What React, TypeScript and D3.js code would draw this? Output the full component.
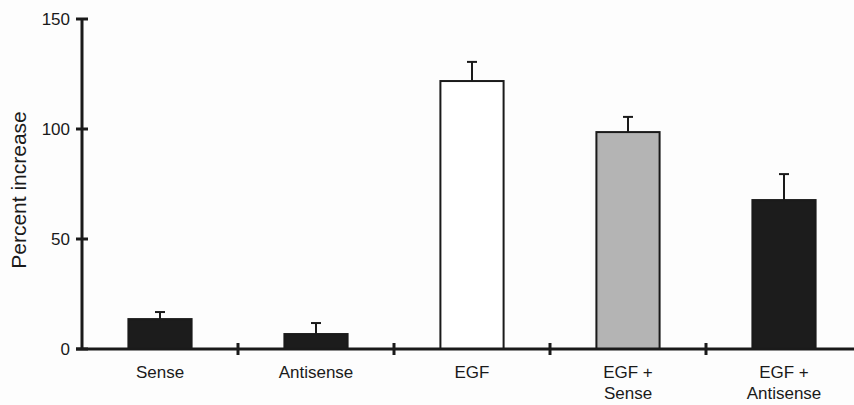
import React from "react";
import * as d3 from "d3";

const categories = ["Sense", "Antisense", "EGF", "EGF +\nSense", "EGF +\nAntisense"];
const values = [13.6, 6.8, 121.8, 98.6, 67.7];
const errors = [3.2, 5.0, 8.7, 6.9, 11.8];
const fills = ["#1c1c1c", "#1c1c1c", "#ffffff", "#b4b4b4", "#1c1c1c"];
const yTicks = [0, 50, 100, 150];

export default function App() {
  const W = 854, H = 405;
  const x0 = 82, x1 = 862, yTop = 19, yBot = 349;
  const x = d3.scaleBand<string>().domain(categories).range([x0, x1]).padding(0);
  const y = d3.scaleLinear().domain([0, 150]).range([yBot, yTop]);
  const bw = x.bandwidth() * 0.405;
  const font = "'Liberation Sans', Arial, sans-serif";
  const ink = "#1a1a1a";
  return (
    <svg width={W} height={H} style={{ position: "absolute", left: 0, top: 0, background: "#fdfdfd" }}>
      {categories.map((c, i) => {
        const cx = (x(c) as number) + x.bandwidth() / 2;
        const top = y(values[i]);
        const et = y(values[i] + errors[i]);
        return (
          <g key={c}>
            <line x1={cx} x2={cx} y1={top} y2={et} stroke={ink} strokeWidth={2} />
            <line x1={cx - 5} x2={cx + 5} y1={et} y2={et} stroke={ink} strokeWidth={2} />
            <rect x={cx - bw / 2} y={top} width={bw} height={yBot - top} fill={fills[i]} stroke={ink} strokeWidth={2} />
          </g>
        );
      })}
      <line x1={x0} x2={x0} y1={yTop} y2={yBot + 1} stroke={ink} strokeWidth={3} />
      <line x1={x0 - 6} x2={W} y1={yBot} y2={yBot} stroke={ink} strokeWidth={3} />
      {yTicks.map((t) => (
        <g key={t}>
          <line x1={x0 - 6} x2={x0 + 6} y1={y(t)} y2={y(t)} stroke={ink} strokeWidth={3} />
          <text x={x0 - 12} y={y(t)} dy="0.36em" textAnchor="end" fontFamily={font} fontSize={17} fill={ink}>
            {t}
          </text>
        </g>
      ))}
      {categories.slice(1).map((c) => (
        <line key={c} x1={x(c) as number} x2={x(c) as number} y1={yBot - 6} y2={yBot + 6} stroke={ink} strokeWidth={3} />
      ))}
      {categories.map((c) => {
        const cx = (x(c) as number) + x.bandwidth() / 2;
        return (
          <text key={c} x={cx} y={378} textAnchor="middle" fontFamily={font} fontSize={17} fill={ink}>
            {c.split("\n").map((ln, j) => (
              <tspan key={j} x={cx} dy={j === 0 ? 0 : 21}>
                {ln}
              </tspan>
            ))}
          </text>
        );
      })}
      <text
        transform={`translate(26,${(yTop + yBot) / 2 + 6}) rotate(-90)`}
        textAnchor="middle"
        fontFamily={font}
        fontSize={21}
        fill={ink}
      >
        Percent increase
      </text>
    </svg>
  );
}
